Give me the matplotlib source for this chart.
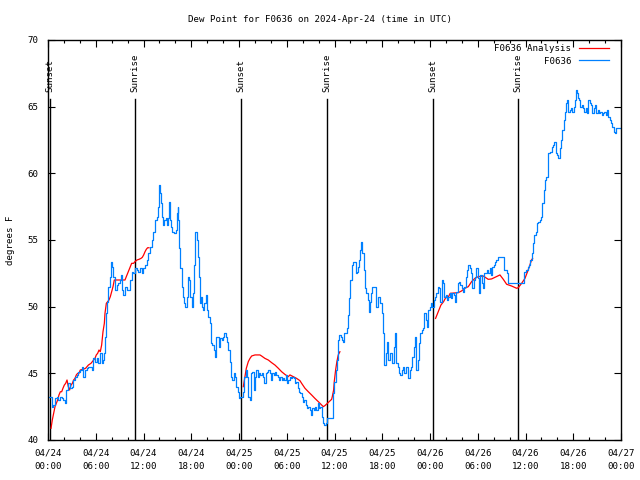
import numpy as np
import matplotlib
matplotlib.use("Agg")
import matplotlib.pyplot as plt
from matplotlib.ticker import MultipleLocator

plt.rcParams['font.family'] = ['DejaVu Sans Mono']
FS = 6.6

# hours since 04/24 00:00 UTC
obs_hours = [
    0.04, 0.46, 0.67, 0.88, 1.09, 1.30, 1.51, 1.72, 1.93, 2.14, 2.22, 2.55, 2.76, 2.97,
    3.18, 3.39, 3.60, 3.81, 4.02, 4.23, 4.44, 4.65, 4.86, 5.07, 5.28, 5.49, 5.70, 5.90,
    6.11, 6.32, 6.53, 6.74, 6.95, 7.08, 7.16, 7.29, 7.37, 7.58, 7.79, 7.91, 8.08, 8.21,
    8.42, 8.63, 8.84, 9.05, 9.17, 9.34, 9.46, 9.67, 9.88, 10.09, 10.30, 10.51, 10.72,
    10.93, 11.14, 11.35, 11.56, 11.77, 11.98, 12.19, 12.40, 12.60, 12.81, 13.02, 13.23,
    13.44, 13.65, 13.78, 13.94, 14.07, 14.20, 14.36, 14.49, 14.61, 14.78, 14.91, 15.03,
    15.20, 15.33, 15.45, 15.62, 15.87, 16.04, 16.16, 16.29, 16.37, 16.50, 16.62, 16.79,
    16.92, 17.09, 17.21, 17.42, 17.63, 17.76, 17.88, 18.05, 18.26, 18.38, 18.51, 18.68,
    18.80, 18.97, 19.10, 19.22, 19.39, 19.51, 19.64, 19.81, 19.93, 20.14, 20.35, 20.48,
    20.64, 20.81, 20.98, 21.15, 21.31, 21.48, 21.65, 21.82, 21.98, 22.15, 22.32, 22.49,
    22.66, 22.82, 22.99, 23.16, 23.32, 23.49, 23.66, 23.83, 23.99, 24.16, 24.33, 24.50,
    24.66, 24.83, 25.00, 25.17, 25.34, 25.50, 25.67, 25.84, 26.01, 26.17, 26.34, 26.51,
    26.68, 26.84, 27.01, 27.18, 27.35, 27.51, 27.68, 27.85, 28.02, 28.18, 28.35, 28.52,
    28.69, 28.85, 29.02, 29.19, 29.36, 29.52, 29.69, 29.86, 30.03, 30.19, 30.36, 30.53,
    30.70, 30.86, 31.03, 31.20, 31.37, 31.53, 31.70, 31.87, 32.04, 32.20, 32.37, 32.54,
    32.71, 32.87, 33.04, 33.21, 33.38, 33.54, 33.71, 33.88, 34.05, 34.21, 34.38, 34.55,
    34.72, 34.88, 35.05, 35.22, 35.55, 35.72, 35.85, 35.97, 36.14, 36.30, 36.47, 36.60,
    36.77, 36.94, 37.10, 37.23, 37.39, 37.56, 37.73, 37.86, 37.98, 38.15, 38.32, 38.48,
    38.65, 38.78, 38.90, 39.07, 39.24, 39.36, 39.49, 39.66, 39.82, 39.99, 40.16, 40.29,
    40.41, 40.58, 40.75, 40.91, 41.08, 41.25, 41.42, 41.58, 41.75, 41.92, 42.09, 42.25,
    42.42, 42.59, 42.75, 42.92, 43.09, 43.26, 43.42, 43.59, 43.76, 43.93, 44.09, 44.26,
    44.43, 44.60, 44.76, 44.93, 45.10, 45.27, 45.43, 45.60, 45.77, 45.94, 46.10, 46.27,
    46.44, 46.61, 46.77, 46.94, 47.11, 47.28, 47.44, 47.61, 47.78, 47.95, 48.11, 48.28,
    48.45, 48.62, 48.78, 48.95, 49.12, 49.29, 49.45, 49.62, 49.79, 49.96, 50.12, 50.29,
    50.46, 50.63, 50.79, 50.96, 51.13, 51.30, 51.47, 51.63, 51.80, 51.97, 52.14, 52.30,
    52.47, 52.64, 52.81, 52.97, 53.14, 53.31, 53.48, 53.64, 53.81, 53.98, 54.15, 54.31,
    54.48, 54.65, 54.82, 54.98, 55.15, 55.32, 55.49, 55.65, 55.82, 55.99, 56.16, 56.32,
    56.49, 56.83, 57.25, 57.33, 57.50, 57.66, 57.83, 59.71, 59.84, 60.09, 60.26, 60.43,
    60.59, 60.76, 60.93, 61.10, 61.26, 61.43, 61.60, 61.77, 61.93, 62.10, 62.27, 62.44,
    62.60, 62.77, 62.86, 63.11, 63.27, 63.44, 63.61, 63.78, 63.94, 64.11, 64.28, 64.45,
    64.61, 64.78, 64.95, 65.12, 65.20, 65.37, 65.53, 65.70, 65.87, 66.04, 66.20, 66.37,
    66.46, 66.54, 66.71, 66.88, 67.04, 67.21, 67.38, 67.55, 67.71, 67.88, 68.05, 68.22,
    68.38, 68.55, 68.72, 68.89, 69.05, 69.22, 69.39, 69.56, 69.72, 69.89, 70.06, 70.23,
    70.39, 70.56, 70.73, 70.90, 71.06, 71.23, 71.40, 71.65, 71.98,
]
obs_dewpt = [
    43.25, 42.5, 42.62, 43.12, 43.25, 43.0, 43.25, 43.12, 43.0, 42.75, 43.75, 44.25, 43.88, 44.0,
    44.5, 44.75, 44.88, 45.12, 45.25, 45.5, 44.75, 45.25, 45.38, 45.5, 45.5, 45.25, 46.12, 45.88,
    46.12, 45.75, 46.5, 45.75, 46.0, 46.5, 47.75, 49.5, 50.38, 51.5, 52.25, 53.38, 53.0, 52.25,
    51.25, 51.62, 51.75, 52.0, 52.38, 51.25, 50.88, 51.5, 51.25, 51.25, 52.0, 52.62, 52.5,
    52.88, 52.75, 52.62, 52.88, 52.5, 52.88, 53.12, 53.5, 54.0, 54.5, 55.0, 55.62,
    56.5, 56.75, 57.5, 59.12, 58.5, 57.75, 56.75, 56.12, 56.5, 56.62, 56.12, 56.62,
    57.88, 56.5, 56.0, 55.62, 55.5, 55.75, 57.0, 57.5, 56.5, 54.38, 52.88, 51.5,
    50.75, 50.25, 50.0, 50.75, 52.25, 52.0, 50.75, 50.0, 51.0, 53.12, 55.62, 55.0,
    53.75, 52.25, 50.25, 50.75, 50.0, 49.75, 50.25, 50.88, 49.75, 49.25, 48.75, 47.25,
    47.12, 46.75, 46.25, 47.75, 47.75, 47.0, 47.62, 47.5, 47.75, 48.0, 47.75, 47.38,
    46.75, 45.88, 44.75, 44.5, 45.0, 44.75, 44.0, 43.62, 43.12, 43.25, 43.25, 43.62,
    44.75, 45.25, 44.75, 43.25, 43.0, 45.0, 45.12, 43.75, 44.75, 45.25, 44.75, 45.0,
    44.88, 45.0, 44.75, 44.25, 45.0, 45.12, 45.25, 45.0, 44.5, 45.0, 44.88, 45.12,
    44.88, 44.75, 44.5, 44.75, 44.5, 44.62, 44.5, 44.88, 44.25, 44.5, 44.75, 44.62,
    44.75, 44.62, 44.25, 44.38, 43.88, 43.62, 43.5, 43.25, 42.88, 43.0, 42.62, 42.38,
    42.5, 42.25, 41.88, 42.38, 42.25, 42.5, 42.25, 42.75, 42.38, 42.5, 41.75, 41.25,
    41.12, 41.25, 41.62, 41.62, 41.62, 41.62, 43.5, 44.38, 45.25, 46.0, 47.5, 47.88,
    47.75, 47.5, 47.38, 48.0, 48.0, 48.38, 49.38, 50.62, 52.0, 53.12, 53.38, 53.38,
    52.5, 52.62, 53.0, 53.5, 54.25, 54.88, 54.0, 52.75, 51.38, 51.0, 50.5, 49.62,
    50.38, 51.0, 51.5, 51.5, 51.5, 50.0, 50.75, 50.75, 50.25, 49.5, 48.0, 45.62,
    46.5, 47.38, 46.0, 46.5, 46.5, 45.75, 47.0, 48.0, 45.75, 45.5, 45.0, 44.88,
    45.25, 45.5, 45.0, 45.5, 45.5, 44.62, 45.25, 45.5, 46.25, 47.0, 47.75, 45.25,
    46.0, 47.25, 48.0, 48.25, 48.38, 49.5, 49.0, 48.5, 49.75, 50.0, 50.25, 50.0,
    50.5, 50.75, 51.0, 51.5, 51.38, 50.38, 52.0, 51.75, 50.75, 50.88, 50.5, 50.75,
    51.0, 50.62, 51.0, 50.88, 50.38, 51.12, 51.75, 51.88, 51.62, 51.38, 51.12, 51.5,
    52.25, 52.75, 53.12, 52.88, 52.5, 51.38, 52.0, 52.25, 52.88, 52.12, 51.0, 52.38,
    51.75, 51.38, 52.5, 52.5, 52.75, 52.5, 52.88, 52.38, 53.0, 53.12, 53.38, 53.5,
    53.75, 53.75, 53.75, 52.75, 52.75, 52.5, 51.75, 51.75, 52.62, 52.75, 53.0, 53.12,
    53.5, 54.0, 54.75, 55.38, 55.62, 56.25, 56.38, 56.5, 56.75, 57.75, 58.75, 59.5,
    59.75, 60.75, 61.5, 61.62, 62.0, 62.12, 62.38, 61.5, 61.38, 61.12, 61.88, 62.5,
    63.25, 64.0, 64.62, 65.25, 65.5, 64.62, 64.75, 64.88, 64.62, 65.0, 65.5, 66.25,
    66.0, 65.62, 65.5, 65.0, 65.12, 64.88, 64.62, 64.88, 64.5, 65.5, 65.25, 65.12,
    64.5, 64.88, 65.12, 64.5, 64.75, 64.5, 64.62, 64.38, 64.5, 64.62, 64.38, 64.75,
    64.25, 64.0, 63.75, 63.5, 63.12, 63.0, 63.38, 63.38, 63.42,
]

# analysis series, nan marks the gaps
ana_hours = [
    0.38, 0.54, 0.71, 0.88, 1.05, 1.21, 1.38, 1.55, 1.72, 1.88, 2.05, 2.22, 2.39, 2.55,
    2.72, 2.89, 3.06, 3.22, 3.39, 3.56, 3.73, 3.89, 4.06, 4.40, 4.73, 4.90, 5.07, 5.40,
    5.57, 5.74, 5.90, 6.07, 6.24, 6.41, 6.57, 6.74, 6.91, 7.08, 7.16, 7.33, 7.50, 7.66,
    7.83, 8.00, 8.17, 8.33, 9.67, 9.84, 10.01, 10.18, 10.34, 10.51, 10.76, 10.93, 11.18,
    11.43, 11.68, 11.85, 12.02, 12.19, 12.35, 12.52, 12.69, 18.0,
    24.54, 24.75, 24.92, 25.17, 25.38, 25.59, 26.01, 26.63, 26.84, 27.26, 27.68, 28.10,
    28.52, 28.94, 29.36, 29.77, 30.19, 30.40, 30.82, 31.24, 31.66, 31.87, 32.29, 32.71,
    33.12, 33.54, 33.96, 34.38, 34.59, 34.80, 35.22, 35.64, 35.72, 35.89, 35.97, 36.14,
    36.30, 36.47, 36.68, 42.0,
    48.70, 49.03, 49.37, 49.71, 50.04, 50.21, 50.54, 51.55, 51.97, 52.39, 52.81, 53.23,
    53.64, 54.06, 54.69, 55.32, 55.74, 56.16, 56.79, 57.21, 57.63, 58.25, 58.88, 59.09,
    59.51, 59.93, 60.34, 60.76, 60.89,
]
ana_dewpt = [
    40.88, 41.5, 42.0, 42.5, 42.75, 43.0, 43.38, 43.62, 43.62, 43.88, 44.12, 44.25, 44.5, 44.0,
    43.75, 44.12, 44.25, 44.5, 44.62, 44.88, 45.0, 45.0, 45.25, 45.3, 45.38, 45.5, 45.62, 45.75,
    45.88, 46.0, 46.12, 46.38, 46.5, 46.75, 46.62, 47.12, 48.12, 48.75, 49.5, 50.25, 50.38, 50.5,
    50.75, 51.12, 51.5, 52.0, 52.0, 52.25, 52.5, 52.75, 53.0, 53.25, 53.25, 53.38, 53.5,
    53.55, 53.62, 53.7, 53.88, 54.12, 54.3, 54.42, 54.42, np.nan,
    44.0, 44.75, 45.38, 45.88, 46.12, 46.3, 46.38, 46.38, 46.3, 46.12, 46.0, 45.8,
    45.62, 45.38, 45.12, 44.92, 44.75, 44.88, 44.75, 44.62, 44.45, 44.25, 43.88, 43.62,
    43.38, 43.12, 42.88, 42.62, 42.5, 42.58, 42.82, 43.05, 43.25, 43.75, 44.38, 45.25,
    45.88, 46.38, 46.62, np.nan,
    49.12, 49.62, 50.12, 50.38, 50.75, 50.62, 51.0, 51.05, 51.18, 51.38, 51.5, 51.88,
    52.12, 52.25, 52.3, 52.05, 52.08, 52.2, 52.38, 52.05, 51.68, 51.55, 51.38, 51.42,
    51.75, 52.12, 52.75, 53.5, 53.62,
]

sun_hours = [0.25, 10.95, 24.25, 35.0, 48.4, 59.08]
sun_labels = ['Sunset', 'Sunrise', 'Sunset', 'Sunrise', 'Sunset', 'Sunrise']

tick_hours = list(range(0, 73, 6))
tick_labels = ['04/24\n00:00', '04/24\n06:00', '04/24\n12:00', '04/24\n18:00',
               '04/25\n00:00', '04/25\n06:00', '04/25\n12:00', '04/25\n18:00',
               '04/26\n00:00', '04/26\n06:00', '04/26\n12:00', '04/26\n18:00',
               '04/27\n00:00']

fig = plt.figure(figsize=(6.4, 4.8), dpi=100)
ax = fig.add_axes([48/640, 40/480, 573/640, 400/480])

for h, lab in zip(sun_hours, sun_labels):
    ax.plot([h, h], [40, 65.6], color='black', lw=1.0)
    ax.text(h, 66.1, lab, rotation=90, ha='center', va='bottom', fontsize=FS)

ax.plot(ana_hours, ana_dewpt, color='#ff0000', lw=0.9, label='F0636 Analysis')
ax.plot(obs_hours, obs_dewpt, color='#0080ff', lw=0.9, drawstyle='steps-post', label='F0636')

ax.set_xlim(0, 72)
ax.set_ylim(40, 70)
ax.set_xticks(tick_hours)
ax.set_xticklabels(tick_labels, linespacing=1.6)
ax.xaxis.set_minor_locator(MultipleLocator(2))
ax.set_yticks([40, 45, 50, 55, 60, 65, 70])
ax.tick_params(which='both', direction='in', top=True, right=True, labelsize=FS, width=0.8)
ax.tick_params(axis='x', which='major', length=5, pad=6)
ax.tick_params(axis='x', which='minor', length=2.5)
ax.tick_params(axis='y', which='major', length=5, pad=7)
for s in ax.spines.values():
    s.set_linewidth(1.0)

ax.set_ylabel('degrees F', fontsize=FS, labelpad=9)
ax.set_title('Dew Point for F0636 on 2024-Apr-24 (time in UTC)', fontsize=FS, pad=13,
             x=(320 - 48) / 573)

ax.legend(loc='upper right', bbox_to_anchor=(0.99, 1.005), frameon=False, markerfirst=False,
          fontsize=FS, handlelength=3.3, handletextpad=0.8, labelspacing=0.35, borderpad=0.2)

fig.savefig('out.png', dpi=100)
